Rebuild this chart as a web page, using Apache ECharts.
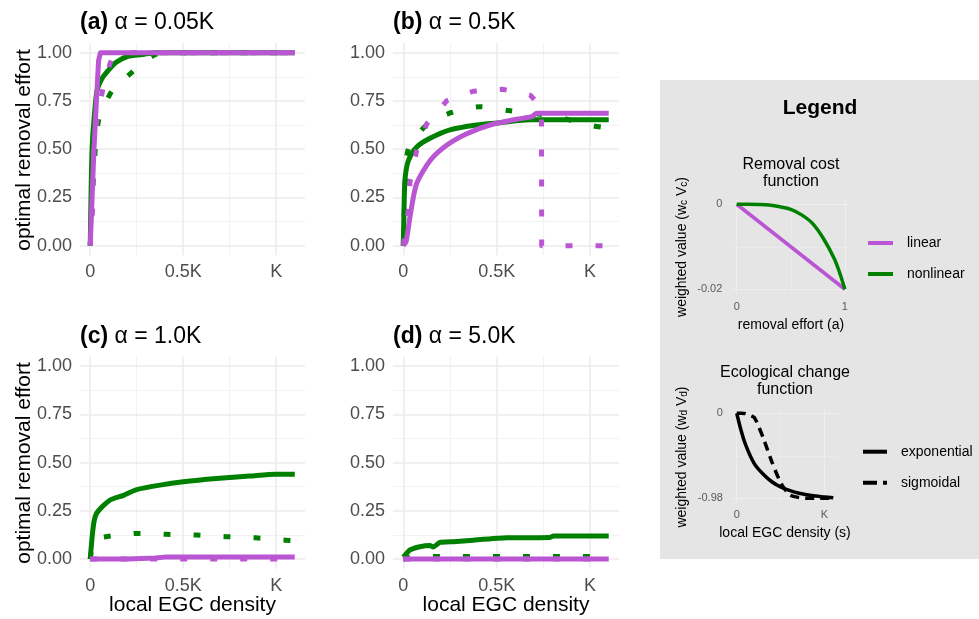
<!DOCTYPE html>
<html><head><meta charset="utf-8">
<script src="https://cdn.jsdelivr.net/npm/echarts@6/dist/echarts.min.js"></script>
<style>html,body{margin:0;padding:0;background:#fff}#c{width:979px;height:619px}</style>
</head><body><div id="c"></div><script>
// ---------------- data (x in units of K, y = optimal removal effort) ----------------
const panelTitles = ['(a)|α = 0.05K', '(b)|α = 0.5K', '(c)|α = 1.0K', '(d)|α = 5.0K'];
const yTicks = [0, 0.25, 0.5, 0.75, 1];
const yTickLabels = ['0.00', '0.25', '0.50', '0.75', '1.00'];
const yMinor = [0.125, 0.375, 0.625, 0.875];
const xTicks = [0, 0.5, 1];
const xTickLabels = ['0', '0.5K', 'K'];
const xMinor = [0.25, 0.75];

// panel (a)
const aLinearExp = [[0,0],[0.01,0.25],[0.02,0.5],[0.035,0.78],[0.045,0.96],[0.055,1],[0.3,1],[0.6,1],[1.1,1]];
const aNonlinExp = [[0,0],[0.005,0.3],[0.01,0.5],[0.02,0.65],[0.036,0.8],[0.06,0.86],[0.09,0.9],[0.14,0.95],[0.2,0.98],[0.28,0.99],[0.35,1],[0.6,1],[1.1,1]];
const aLinearSig = [[0,0],[0.012,0.18],[0.015,0.34],[0.02,0.5],[0.036,0.65],[0.068,0.81],[0.116,0.97],[0.15,1],[1.1,1]];
const aNonlinSig = [[0,0],[0.02,0.4],[0.045,0.65],[0.116,0.8],[0.227,0.9],[0.35,0.99],[0.45,1],[1.1,1]];
// panel (b)
const bLinearExp = [[0,0],[0.015,0.02],[0.036,0.15],[0.071,0.32],[0.143,0.44],[0.232,0.52],[0.34,0.58],[0.464,0.625],[0.607,0.655],[0.688,0.668],[0.714,0.686],[1.1,0.686]];
const bNonlinExp = [[0,0],[0.004,0.18],[0.009,0.34],[0.027,0.44],[0.071,0.51],[0.143,0.556],[0.25,0.6],[0.393,0.625],[0.518,0.637],[0.68,0.652],[1.1,0.652]];
const bLinearSig = [[0,0],[0.027,0.18],[0.036,0.33],[0.071,0.49],[0.125,0.63],[0.232,0.75],[0.375,0.8],[0.532,0.81],[0.679,0.78],[0.74,0.72],[0.741,0],[1.1,0]];
const bNonlinSig = [[0,0],[0.01,0.3],[0.027,0.5],[0.125,0.625],[0.259,0.69],[0.41,0.72],[0.563,0.7],[0.707,0.685],[0.875,0.655],[1.02,0.62],[1.1,0.61]];
// panel (c)
const cLinearExp = [[0,0],[0.2,0],[0.35,0.005],[0.4,0.01],[1.1,0.01]];
const cNonlinExp = [[0,0],[0.018,0.18],[0.036,0.24],[0.107,0.306],[0.179,0.33],[0.25,0.36],[0.375,0.383],[0.5,0.4],[0.679,0.417],[0.857,0.43],[1.0,0.44],[1.1,0.44]];
const cLinearSig = [[0,0],[0.5,0],[1.1,0]];
const cNonlinSig = [[0,0],[0.02,0.1],[0.1,0.118],[0.25,0.133],[0.41,0.128],[0.57,0.124],[0.73,0.116],[0.89,0.11],[1.05,0.098],[1.1,0.095]];
// panel (d)
const dLinearExp = [[0,0],[0.5,0],[1.1,0]];
const dNonlinExp = [[0,0.01],[0.036,0.047],[0.089,0.064],[0.143,0.07],[0.16,0.062],[0.196,0.086],[0.268,0.09],[0.375,0.098],[0.554,0.11],[0.786,0.112],[0.804,0.12],[1.1,0.12]];
const dLinearSig = [[0,0],[0.5,0],[1.1,0]];
const dNonlinSig = [[0,0],[0.05,0.013],[1.1,0.013]];

// legend mini plots
const costEffort = [0,0.1,0.2,0.3,0.4,0.5,0.6,0.7,0.8,0.9,0.95,1];
const costLinear = [0,-0.002,-0.004,-0.006,-0.008,-0.01,-0.012,-0.014,-0.016,-0.018,-0.019,-0.02];
const costNonlinear = [0,0,-0.00005,-0.0002,-0.0006,-0.0012,-0.0025,-0.0045,-0.008,-0.0127,-0.016,-0.02];
const ecoDensity = [0,0.05,0.1,0.2,0.3,0.4,0.5,0.6,0.7,0.8,0.9,1.0,1.1];
const ecoExponential = [0,-0.2,-0.36,-0.58,-0.7,-0.79,-0.85,-0.89,-0.92,-0.94,-0.955,-0.965,-0.975];
const ecoSigmoidal = [0,0,-0.005,-0.05,-0.28,-0.56,-0.8,-0.94,-0.97,-0.98,-0.98,-0.98,-0.98];

// ---------------- chart ----------------
const F = '"Liberation Sans", Arial, Helvetica, sans-serif';
const PURPLE = '#BA55D3', GREEN = '#008000';
const DASH = [7, 23];

const grids = [
  {left:80, top:43, width:225, height:212.3},
  {left:393, top:43, width:226, height:212.3},
  {left:80, top:356.4, width:225, height:212.3},
  {left:393, top:356.4, width:226, height:212.3},
  {left:731.3, top:200, width:119, height:93.5},
  {left:731.9, top:409, width:106.2, height:93.5}
];

function mainX(i){
  return {gridIndex:i, type:'value', min:-0.055, max:1.155,
    axisLine:{show:false}, axisTick:{show:false, customValues:xTicks}, splitLine:{show:false},
    axisLabel:{customValues:xTicks, margin:8, color:'#4d4d4d', fontSize:18, fontFamily:F,
      formatter:v=>xTickLabels[xTicks.findIndex(t=>Math.abs(t-v)<1e-6)]}};
}
function mainY(i){
  return {gridIndex:i, type:'value', min:-0.05, max:1.05,
    axisLine:{show:false}, axisTick:{show:false, customValues:yTicks}, splitLine:{show:false},
    axisLabel:{customValues:yTicks, margin:8, color:'#4d4d4d', fontSize:18, fontFamily:F,
      formatter:v=>yTickLabels[yTicks.findIndex(t=>Math.abs(t-v)<1e-6)]}};
}
function gridMark(xMaj, xMin, yMaj, yMin, cMaj, cMin, wMaj, wMin){
  const d = [];
  const mk = (k,v,c,w)=>{const o={lineStyle:{color:c,width:w,type:'solid'}}; o[k]=v; return o;};
  xMin.forEach(v=>d.push(mk('xAxis',v,cMin,wMin)));
  yMin.forEach(v=>d.push(mk('yAxis',v,cMin,wMin)));
  xMaj.forEach(v=>d.push(mk('xAxis',v,cMaj,wMaj)));
  yMaj.forEach(v=>d.push(mk('yAxis',v,cMaj,wMaj)));
  return {silent:true, symbol:['none','none'], label:{show:false}, emphasis:{disabled:true},
    animation:false, z:1, precision:6, data:d};
}
function line(i, data, color, dashed, width, smooth, mark){
  const s = {type:'line', xAxisIndex:i, yAxisIndex:i, data:data, showSymbol:false, symbol:'none',
    silent:true, animation:false, z:2, smooth: smooth || false,
    lineStyle:{color:color, width:width, type: dashed ? (Array.isArray(dashed)?dashed:DASH) : 'solid', cap:'butt', join:'round'},
    emphasis:{disabled:true}};
  if (mark) s.markLine = mark;
  return s;
}

const panelData = [
  [aNonlinSig, aNonlinExp, aLinearSig, aLinearExp],
  [bNonlinSig, bNonlinExp, bLinearSig, bLinearExp],
  [cNonlinSig, cNonlinExp, cLinearSig, cLinearExp],
  [dNonlinSig, dNonlinExp, dLinearSig, dLinearExp]
];
// smoothing flags per panel: [nonlinSig, nonlinExp, linearSig, linearExp]
const smoothFlags = [
  [0.2, 0.25, 0.15, 0],
  [0.25, 0.25, 0, 0.25],
  [0.15, 0.25, 0, 0],
  [0, 0.15, 0, 0]
];

const xAxes = [], yAxes = [], series = [];
for (let i=0;i<4;i++){
  xAxes.push(mainX(i)); yAxes.push(mainY(i));
  const [ns, ne, ls, le] = panelData[i];
  const sf = smoothFlags[i];
  series.push(line(i, ns, GREEN, true, 5, sf[0], gridMark(xTicks, xMinor, yTicks, yMinor, '#ebebeb', '#f2f2f2', 1.5, 1)));
  series.push(line(i, ne, GREEN, false, 5, sf[1]));
  series.push(line(i, ls, PURPLE, true, 5, sf[2]));
  series.push(line(i, le, PURPLE, false, 5, sf[3]));
}
// mini plot: removal cost
const miniLabel = {color:'#5a5a5a', fontSize:11, fontFamily:F};
xAxes.push({gridIndex:4, type:'value', min:-0.05, max:1.05, axisLine:{show:false}, axisTick:{show:false, customValues:[0,1]}, splitLine:{show:false},
  axisLabel:Object.assign({customValues:[0,1], margin:8, formatter:v=>v===0?'0':'1'}, miniLabel)});
yAxes.push({gridIndex:4, type:'value', min:-0.021, max:0.001, axisLine:{show:false}, axisTick:{show:false, customValues:[-0.02,0]}, splitLine:{show:false},
  axisLabel:Object.assign({customValues:[-0.02,0], margin:9, formatter:v=>Math.abs(v)<1e-9?'0':'-0.02'}, miniLabel)});
const costLin = costEffort.map((a,k)=>[a, costLinear[k]]);
const costNon = costEffort.map((a,k)=>[a, costNonlinear[k]]);
series.push(line(4, costLin, PURPLE, false, 3.5, 0, gridMark([0,1],[0.5],[0,-0.02],[-0.01],'#eeeeee','#ebebeb',1,0.8)));
series.push(line(4, costNon, GREEN, false, 3.5, 0.35));
// mini plot: ecological change
xAxes.push({gridIndex:5, type:'value', min:-0.055, max:1.155, axisLine:{show:false}, axisTick:{show:false, customValues:[0,1]}, splitLine:{show:false},
  axisLabel:Object.assign({customValues:[0,1], margin:7, formatter:v=>v===0?'0':'K'}, miniLabel)});
yAxes.push({gridIndex:5, type:'value', min:-1.029, max:0.049, axisLine:{show:false}, axisTick:{show:false, customValues:[-0.98,0]}, splitLine:{show:false},
  axisLabel:Object.assign({customValues:[-0.98,0], margin:9, formatter:v=>Math.abs(v)<1e-9?'0':'-0.98'}, miniLabel)});
const ecoExp = ecoDensity.map((s,k)=>[s, ecoExponential[k]]);
const ecoSig = ecoDensity.map((s,k)=>[s, ecoSigmoidal[k]]);
series.push(line(5, ecoExp, '#000', false, 3.5, 0.35, gridMark([0,1],[0.5],[0,-0.98],[-0.49],'#eeeeee','#ebebeb',1,0.8)));
series.push(line(5, ecoSig, '#000', [9,6], 3.5, 0.2));

// ---------------- text & decorations ----------------
const graphic = [];
graphic.push({type:'rect', z:-10, shape:{x:660, y:80, width:330, height:479}, style:{fill:'#e5e5e5'}, silent:true});
const titlePos = [[80,23],[393,23],[80,336.5],[393,336.5]];
panelTitles.forEach((t,i)=>{
  const [lab, rest] = t.split('|');
  graphic.push({type:'text', x:titlePos[i][0], y:titlePos[i][1], silent:true,
    style:{text:'{b|'+lab+'} '+rest, fontSize:23, fontFamily:F, fill:'#000', align:'left', verticalAlign:'middle',
      rich:{b:{fontWeight:'bold', fontSize:23, fontFamily:F, fill:'#000'}}}});
});
[[24,150],[24,463]].forEach(p=>graphic.push({type:'text', x:p[0], y:p[1], rotation:Math.PI/2, silent:true,
  style:{text:'optimal removal effort', fontSize:21, fontFamily:F, fill:'#000', align:'center', verticalAlign:'middle'}}));
[[192.5,605],[506,605]].forEach(p=>graphic.push({type:'text', x:p[0], y:p[1], silent:true,
  style:{text:'local EGC density', fontSize:21, fontFamily:F, fill:'#000', align:'center', verticalAlign:'middle'}}));
// legend panel texts
graphic.push({type:'text', x:820, y:108, silent:true, style:{text:'Legend', fontSize:21, fontWeight:'bold', fontFamily:F, fill:'#000', align:'center', verticalAlign:'middle'}});
graphic.push({type:'text', x:791, y:173, silent:true, style:{text:'Removal cost\nfunction', fontSize:16, lineHeight:17, fontFamily:F, fill:'#000', align:'center', verticalAlign:'middle'}});
graphic.push({type:'text', x:785, y:381.5, silent:true, style:{text:'Ecological change\nfunction', fontSize:16, lineHeight:17, fontFamily:F, fill:'#000', align:'center', verticalAlign:'middle'}});
graphic.push({type:'text', x:791, y:325, silent:true, style:{text:'removal effort (a)', fontSize:14, fontFamily:F, fill:'#000', align:'center', verticalAlign:'middle'}});
graphic.push({type:'text', x:785, y:533, silent:true, style:{text:'local EGC density (s)', fontSize:14, fontFamily:F, fill:'#000', align:'center', verticalAlign:'middle'}});
const subRich = {n:{fontSize:14, fontFamily:F, fill:'#000', lineHeight:14}, s:{fontSize:10, fontFamily:F, fill:'#000', lineHeight:9, verticalAlign:'bottom'}};
graphic.push({type:'text', x:682, y:247, rotation:Math.PI/2, silent:true,
  style:{text:'{n|weighted value (w}{s|c}{n| V}{s|c}{n|)}', rich:subRich, fontSize:14, fontFamily:F, fill:'#000', align:'center', verticalAlign:'middle'}});
graphic.push({type:'text', x:682, y:457, rotation:Math.PI/2, silent:true,
  style:{text:'{n|weighted value (w}{s|d}{n| V}{s|d}{n|)}', rich:subRich, fontSize:14, fontFamily:F, fill:'#000', align:'center', verticalAlign:'middle'}});
// legend keys
const keys = [
  {y:243, text:'linear', color:PURPLE, dash:null, x1:868, x2:893, tx:907},
  {y:274, text:'nonlinear', color:GREEN, dash:null, x1:868, x2:893, tx:907},
  {y:451.7, text:'exponential', color:'#000', dash:null, x1:863, x2:887, tx:901},
  {y:482.7, text:'sigmoidal', color:'#000', dash:[14,6], x1:863, x2:887, tx:901}
];
keys.forEach(k=>{
  graphic.push({type:'line', silent:true, shape:{x1:k.x1, y1:k.y, x2:k.x2, y2:k.y},
    style:{stroke:k.color, lineWidth:4, lineDash:k.dash || null, lineCap:'butt'}});
  graphic.push({type:'text', x:k.tx, y:k.y, silent:true, style:{text:k.text, fontSize:14, fontFamily:F, fill:'#000', align:'left', verticalAlign:'middle'}});
});

const chart = echarts.init(document.getElementById('c'), null, {renderer:'canvas'});
chart.setOption({
  backgroundColor:'#ffffff',
  animation:false,
  grid: grids,
  xAxis: xAxes,
  yAxis: yAxes,
  series: series,
  graphic: graphic
});
</script></body></html>
